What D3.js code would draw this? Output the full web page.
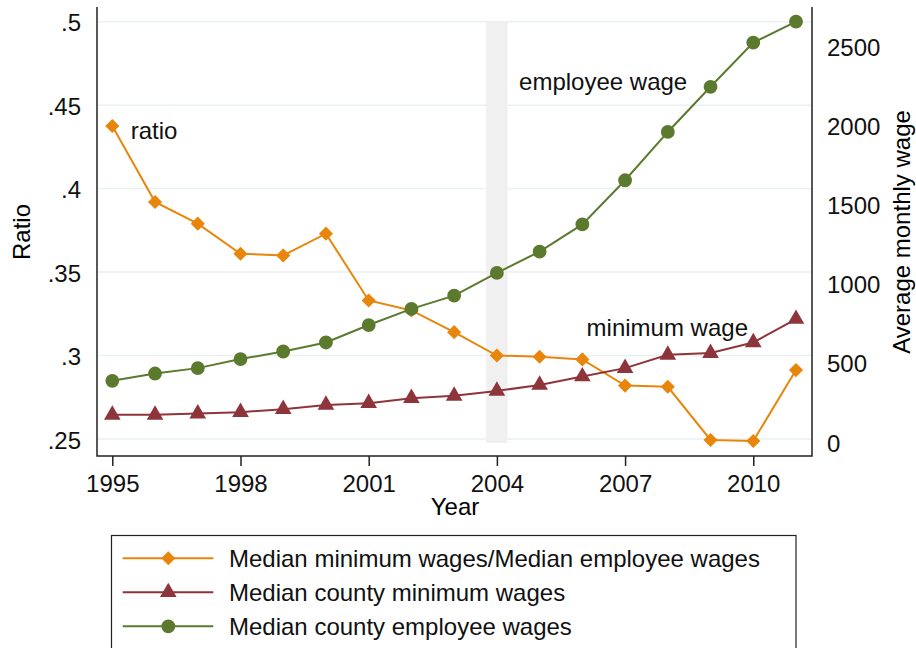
<!DOCTYPE html>
<html>
<head>
<meta charset="utf-8">
<script src="https://cdn.jsdelivr.net/npm/d3@7"></script>
<style>
  body { margin: 0; background: #fff; }
  svg { font-family: "Liberation Sans", Arial, sans-serif; }
</style>
</head>
<body>
<svg id="chart" width="916" height="648"></svg>
<script>
// data
const years = [1995,1996,1997,1998,1999,2000,2001,2002,2003,2004,2005,2006,2007,2008,2009,2010,2011];
const ratio = [.4375,.392,.379,.361,.360,.373,.333,.327,.314,.300,.2993,.2977,.282,.2813,.2494,.2488,.2913];
const minWage = [165,165,173,182,201,228,239,270,285,316,354,407,460,544,555,622,770];
const empWage = [380,426,460,517,565,622,732,834,918,1061,1196,1367,1646,1951,2236,2515,2647];

const xTicks = [1995,1998,2001,2004,2007,2010];
const ratioTicks = [.25,.3,.35,.4,.45,.5];
const wageTicks = [0,500,1000,1500,2000,2500];
const bandYears = [2003.75, 2004.25];

const labels = [
  {text: 'ratio', year: 1995.43, val: .43},
  {text: 'employee wage', year: 2004.52, val: .459},
  {text: 'minimum wage', year: 2006.1, val: .3115}
];

const legendItems = [
  {name: 'Median minimum wages/Median employee wages', key: 'ratio'},
  {name: 'Median county minimum wages', key: 'min'},
  {name: 'Median county employee wages', key: 'emp'}
];

const colors = {ratio: '#e8860c', min: '#8e353c', emp: '#5b7a2d'};

const svg = d3.select('#chart');
const fs = 24;

const pLeft = 97, pRight = 812, pTop = 7, pBottom = 456;

const x = d3.scaleLinear().domain([1995, 2011]).range([112.3, 796]);
const yR = d3.scaleLinear().domain([d3.min(ratio), .5]).range([441, 21.7]);
const yW = d3.scaleLinear().domain([0, d3.max(empWage)]).range([441, 21.7]);

// grid
svg.append('g').selectAll('line').data(ratioTicks).enter().append('line')
  .attr('x1', pLeft).attr('x2', pRight)
  .attr('y1', d => yR(d)).attr('y2', d => yR(d))
  .attr('stroke', '#e9f1f3').attr('stroke-width', 1.5);

// shaded band
svg.append('rect')
  .attr('x', x(bandYears[0])).attr('width', x(bandYears[1]) - x(bandYears[0]))
  .attr('y', yR(.5)).attr('height', yR.range()[0] + 2 - yR(.5))
  .attr('fill', '#f0f0f0');

// axes
const xAxis = d3.axisBottom(x).tickValues(xTicks).tickFormat(d3.format('d')).tickSize(10).tickSizeOuter(0);
const gx = svg.append('g').attr('transform', `translate(0,${pBottom})`).call(xAxis);
gx.select('.domain').remove();
gx.selectAll('line').attr('stroke', '#222').attr('stroke-width', 1.5);
gx.selectAll('text').attr('font-size', fs).attr('fill', '#111').attr('dy', '0.95em');

const yAxisL = d3.axisLeft(yR).tickValues(ratioTicks).tickFormat(d => d3.format('.2f')(d).replace(/^0/, '').replace(/0$/, '')).tickSize(0).tickPadding(16);
const gl = svg.append('g').attr('transform', `translate(${pLeft},0)`).call(yAxisL);
gl.select('.domain').remove();
gl.selectAll('text').attr('font-size', fs).attr('fill', '#111').attr('dy', '0.38em');

const yAxisR = d3.axisRight(yW).tickValues(wageTicks).tickFormat(d3.format('d')).tickSize(0).tickPadding(15);
const gr = svg.append('g').attr('transform', `translate(${pRight},0)`).call(yAxisR);
gr.select('.domain').remove();
gr.selectAll('text').attr('font-size', fs).attr('fill', '#111').attr('dy', '0.42em');

// axis lines
svg.append('path')
  .attr('d', `M${pLeft},${pTop}V${pBottom}H${pRight}V${pTop}`)
  .attr('fill', 'none').attr('stroke', '#222').attr('stroke-width', 1.5);

// titles
svg.append('text').attr('transform', 'translate(30,232) rotate(-90)')
  .attr('text-anchor', 'middle').attr('font-size', fs).text('Ratio');
svg.append('text').attr('x', 455).attr('y', 515)
  .attr('text-anchor', 'middle').attr('font-size', fs).text('Year');
svg.append('text').attr('transform', 'translate(910,232) rotate(-90)')
  .attr('text-anchor', 'middle').attr('font-size', fs).text('Average monthly wage');

// series
const series = [
  {key: 'ratio', vals: ratio, y: yR, sym: d3.symbolSquare, size: 100, rot: 45},
  {key: 'min', vals: minWage, y: yW, sym: d3.symbolTriangle, size: 120, rot: 0},
  {key: 'emp', vals: empWage, y: yW, sym: d3.symbolCircle, size: 150, rot: 0}
];

series.forEach(s => {
  const line = d3.line().x((d, i) => x(years[i])).y(d => s.y(d));
  svg.append('path').datum(s.vals)
    .attr('d', line).attr('fill', 'none')
    .attr('stroke', colors[s.key]).attr('stroke-width', 2);
  svg.append('g').selectAll('path').data(s.vals).enter().append('path')
    .attr('d', d3.symbol().type(s.sym).size(s.size))
    .attr('transform', (d, i) => `translate(${x(years[i])},${s.y(d)}) rotate(${s.rot})`)
    .attr('fill', colors[s.key]);
});

// annotations
svg.append('g').selectAll('text').data(labels).enter().append('text')
  .attr('x', d => x(d.year)).attr('y', d => yR(d.val))
  .attr('font-size', fs).attr('fill', '#111')
  .text(d => d.text);

// legend
const lg = svg.append('g');
lg.append('rect').attr('x', 111.5).attr('y', 535.5).attr('width', 684.5).attr('height', 130)
  .attr('fill', '#fff').attr('stroke', '#222').attr('stroke-width', 1.2);
const rows = lg.selectAll('g.row').data(legendItems).enter().append('g')
  .attr('class', 'row')
  .attr('transform', (d, i) => `translate(0,${558.3 + i * 34})`);
rows.append('line').attr('x1', 122.7).attr('x2', 213.3)
  .attr('stroke', d => colors[d.key]).attr('stroke-width', 2);
rows.append('path')
  .attr('d', d => { const s = series.find(v => v.key === d.key); return d3.symbol().type(s.sym).size(s.size)(); })
  .attr('transform', d => `translate(168.3,0) rotate(${series.find(v => v.key === d.key).rot})`)
  .attr('fill', d => colors[d.key]);
rows.append('text').attr('x', 229).attr('dy', '0.36em')
  .attr('font-size', fs).attr('fill', '#111').text(d => d.name);
</script>
</body>
</html>
